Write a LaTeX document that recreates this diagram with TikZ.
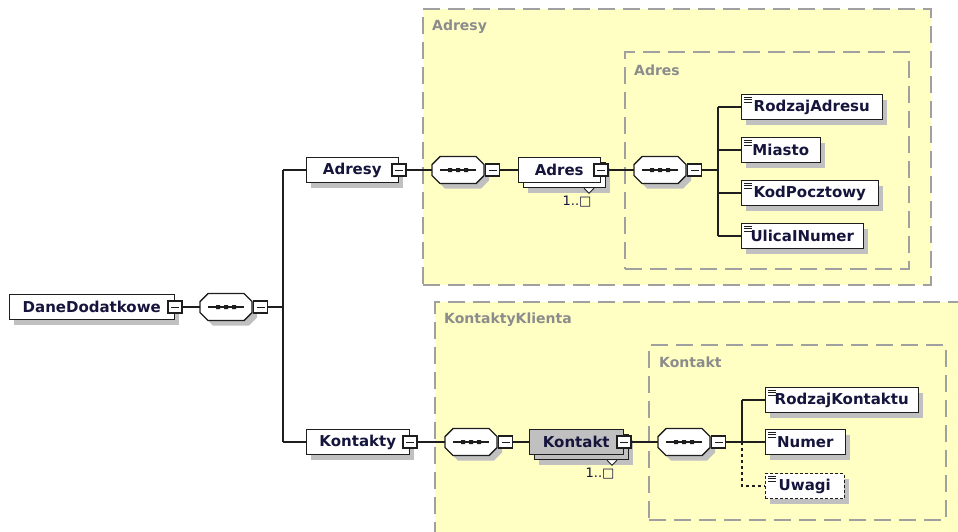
\documentclass[tikz,border=0pt]{standalone}
\usepackage{fontspec}
\setmainfont{DejaVu Sans}
\usetikzlibrary{shadows,calc}
\definecolor{yel}{RGB}{255,255,196}
\definecolor{grpline}{RGB}{160,160,160}
\definecolor{grptext}{RGB}{140,140,140}
\definecolor{shgray}{RGB}{192,192,192}
\definecolor{txt}{RGB}{20,20,60}
\definecolor{ln}{RGB}{30,30,30}
\definecolor{kfill}{RGB}{192,192,192}
\newcommand\elfont{\bfseries\fontsize{15}{17}\selectfont}
\newcommand\grfont{\bfseries\fontsize{14}{16}\selectfont}
\newcommand\mlfont{\fontsize{13}{15}\selectfont}
\tikzset{
  elplain/.style={draw=ln, line width=1.5pt, fill=white, minimum height=25pt, inner sep=0pt, font=\elfont, text=txt},
  elbox/.style={elplain, drop shadow={shadow xshift=5pt,shadow yshift=-5pt,fill=shgray,opacity=1}},
  simpel/.style={elbox, anchor=west, path picture={
      \draw[ln,line width=0.9pt,solid]
        ([shift={(3pt,-2.5pt)}]path picture bounding box.north west) -- ++(8pt,0pt)
        ([shift={(3pt,-5pt)}]path picture bounding box.north west) -- ++(8pt,0pt)
        ([shift={(3pt,-7.5pt)}]path picture bounding box.north west) -- ++(8pt,0pt);}},
  btn/.style={draw=ln, line width=1.1pt, fill=white, minimum width=14pt, minimum height=12pt, inner sep=0pt,
      path picture={\draw[ln,line width=1pt] ([xshift=3pt]path picture bounding box.west) -- ([xshift=-3pt]path picture bounding box.east);}},
  conn/.style={draw=ln, line width=1.4pt},
  grp/.style={fill=yel, draw=grpline, line width=1.5pt, dash pattern=on 17pt off 8pt, anchor=north west, inner sep=0pt},
  grplab/.style={font=\grfont, text=grptext, anchor=west, inner sep=0pt},
  seqnode/.style={minimum width=52pt, minimum height=27pt, inner sep=0pt},
  mult/.style={font=\mlfont, text=txt, inner sep=0pt},
  notch/.style={draw=ln, line width=1pt, fill=white},
}
\newcommand\seqsym[3]{%
  \node[seqnode] (#1) at (#2,#3) {};
  \begin{scope}[shift={(#2,#3)}]
    \begin{scope}[shift={(5,5)}]
      \fill[shgray] (-18,-13.5) -- (18,-13.5) -- (26,-5.5) -- (26,5.5) -- (18,13.5) -- (-18,13.5) -- (-26,5.5) -- (-26,-5.5) -- cycle;
    \end{scope}
    \draw[ln,line width=1.4pt,fill=white] (-18,-13.5) -- (18,-13.5) -- (26,-5.5) -- (26,5.5) -- (18,13.5) -- (-18,13.5) -- (-26,5.5) -- (-26,-5.5) -- cycle;
    \draw[ln,line width=1.3pt] (-18,0) -- (18,0);
    \fill[ln] (-10,-2) rectangle (-6,2) (-2,-2) rectangle (2,2) (6,-2) rectangle (10,2);
  \end{scope}
  \node[btn] (#1b) at ({#2+34.5},#3) {};
}
\begin{document}
\begin{tikzpicture}[x=1pt,y=-1pt]
\useasboundingbox (0,0) rectangle (958,531);
\clip (0,0) rectangle (958,531);
% groups
\node[grp, minimum width=508pt, minimum height=276pt] (gAdresy) at (422,8) {};
\node[grplab] (lAdresy) at (432,27) {Adresy};
\node[grp, minimum width=284pt, minimum height=217pt] (gAdres) at (624,51) {};
\node[grplab] (lAdres) at (634,70) {Adres};
\node[grp, minimum width=560pt, minimum height=260pt] (gKK) at (434,301) {};
\node[grplab] (lKK) at (444,320) {KontaktyKlienta};
\node[grp, minimum width=297pt, minimum height=175pt] (gKontakt) at (648,344) {};
\node[grplab] (lKontakt) at (659,362) {Kontakt};
% root
\node[elbox, anchor=west, minimum width=165pt] (dd) at (8.5,307) {DaneDodatkowe};
\node[btn] (ddb) at (dd.east) {};
\seqsym{s1}{226}{307}
\coordinate (bus1) at (283,307);
\coordinate (busA) at (283,170);
\coordinate (busK) at (283,442);
% Adresy branch
\node[elbox, anchor=west, minimum width=92pt] (adresy) at (305.5,170) {Adresy};
\node[btn] (adresyb) at (adresy.east) {};
\seqsym{s2}{458}{170}
\node[elbox, anchor=west, minimum width=82pt] (adresback) at (522.5,175) {};
\node[elplain, anchor=west, minimum width=82pt] (adres) at (517.5,170) {Adres};
\node[btn] (adresb) at (adres.east) {};
\draw[notch] ($(adresback.south east)+(-22pt,0pt)$) -- ++(5,5) -- ++(5,-5);
\node[mult] (adresm) at (577,202) {1..□};
\seqsym{s3}{660}{170}
\coordinate (bus2) at (718,170);
\node[simpel, minimum width=141pt] (rodzajA) at (740.5,107) {RodzajAdresu};
\node[simpel, minimum width=79pt] (miasto) at (740.5,150) {Miasto};
\node[simpel, minimum width=137pt] (kod) at (740.5,193) {KodPocztowy};
\node[simpel, minimum width=122pt] (ulica) at (740.5,236) {UlicaINumer};
% Kontakty branch
\node[elbox, anchor=west, minimum width=103pt] (kontakty) at (305.5,442) {Kontakty};
\node[btn] (kontaktyb) at (kontakty.east) {};
\seqsym{s4}{471}{442}
\node[elbox, anchor=west, minimum width=94pt, fill=kfill] (kontaktback) at (533.5,447) {};
\node[elplain, anchor=west, minimum width=94pt, fill=kfill] (kontakt) at (528.5,442) {Kontakt};
\node[btn] (kontaktb) at (kontakt.east) {};
\draw[notch] ($(kontaktback.south east)+(-22pt,0pt)$) -- ++(5,5) -- ++(5,-5);
\node[mult] (kontaktm) at (600,474) {1..□};
\seqsym{s5}{684}{442}
\coordinate (bus3) at (742,442);
\node[simpel, minimum width=153pt] (rodzajK) at (764.5,400) {RodzajKontaktu};
\node[simpel, minimum width=80pt] (numer) at (764.5,442) {Numer};
\node[simpel, minimum width=79pt, dash pattern=on 3pt off 2pt] (uwagi) at (764.5,486) {Uwagi};
% connectors
\draw[conn] (ddb.east) -- (s1.west);
\draw[conn] (s1b.east) -- (bus1);
\draw[conn] (busA) -- (busK);
\draw[conn] (busA) -- (adresy.west);
\draw[conn] (busK) -- (kontakty.west);
\draw[conn] (adresyb.east) -- (s2.west);
\draw[conn] (s2b.east) -- (adres.west);
\draw[conn] (adresb.east) -- (s3.west);
\draw[conn] (s3b.east) -- (bus2);
\draw[conn] (bus2 |- rodzajA.west) -- (bus2 |- ulica.west);
\draw[conn] (bus2 |- rodzajA.west) -- (rodzajA.west);
\draw[conn] (bus2 |- miasto.west) -- (miasto.west);
\draw[conn] (bus2 |- kod.west) -- (kod.west);
\draw[conn] (bus2 |- ulica.west) -- (ulica.west);
\draw[conn] (kontaktyb.east) -- (s4.west);
\draw[conn] (s4b.east) -- (kontakt.west);
\draw[conn] (kontaktb.east) -- (s5.west);
\draw[conn] (s5b.east) -- (bus3);
\draw[conn] (bus3 |- rodzajK.west) -- (bus3);
\draw[conn] (bus3 |- rodzajK.west) -- (rodzajK.west);
\draw[conn] (bus3) -- (numer.west);
\draw[conn, dash pattern=on 3pt off 3pt] (bus3) -- (bus3 |- uwagi.west) -- (uwagi.west);
\end{tikzpicture}
\end{document}
